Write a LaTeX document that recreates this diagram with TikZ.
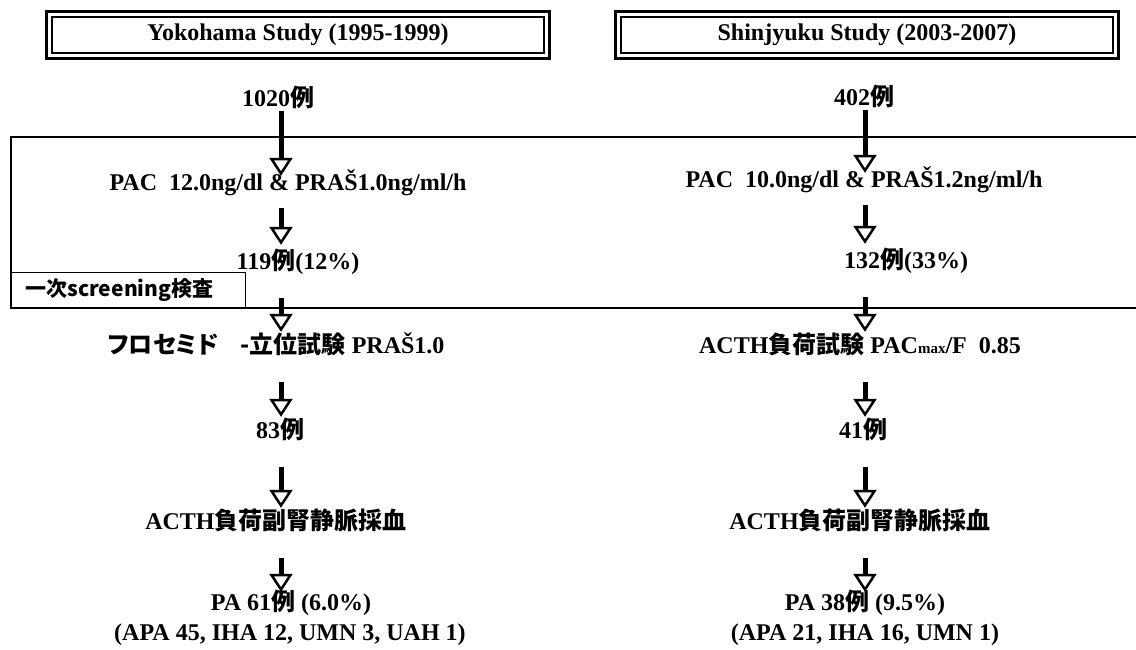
\documentclass[tikz,border=0pt]{standalone}
\usepackage{fontspec}
\setmainfont{Liberation Serif}
\newfontfamily\jafont{Noto Sans CJK JP Bold}
\newfontfamily\kanafont{Noto Sans CJK JP Bold}[RawFeature=+palt]
\usetikzlibrary{arrows.meta}
\newcommand{\ja}[1]{{\jafont #1}}
\newcommand{\kana}[1]{{\kanafont #1}}
\tikzset{
  txt/.style={anchor=base, inner sep=0pt, text height=17pt, text depth=5pt,
    font=\bfseries\fontsize{24}{26}\selectfont},
  flow/.style={line width=5pt, -{Triangle[length=18pt,width=23pt,fill=white,line width=2.5pt]},
    shorten <=24pt, shorten >=4pt},
  header/.style={draw, line width=1.2pt, minimum width=492pt, minimum height=36pt,
    inner sep=0pt, font=\bfseries\fontsize{24}{26}\selectfont}
}
\begin{document}
\begin{tikzpicture}[x=1pt,y=-1pt]
    \useasboundingbox (0,0) rectangle (1136,649);

    % study headers
    \node[header] (hdrL) at (298,35) {Yokohama Study (1995-1999)};
    \node[header] (hdrR) at (867,35) {Shinjyuku Study (2003-2007)};
    \draw[line width=3.5pt] ([shift={(-5pt,5pt)}]hdrL.north west) rectangle ([shift={(5pt,-5pt)}]hdrL.south east);
    \draw[line width=3.5pt] ([shift={(-5pt,5pt)}]hdrR.north west) rectangle ([shift={(5pt,-5pt)}]hdrR.south east);

    % screening frame
    \draw[line width=2.5pt] (11,137) rectangle (1145,308);
    \node[draw, line width=1pt, anchor=south west, minimum height=35pt, inner ysep=0pt,
      inner xsep=14pt, text width=206pt, align=left,
      font=\bfseries\fontsize{21}{23}\selectfont] (scrlabel) at (11,308) {\ja{一次screening検査}};

    \coordinate (lcol) at (281,0);
    \coordinate (rcol) at (865,0);

    % Yokohama
    \node[txt] (l0) at (278,106) {1020\ja{例}};
    \node[txt] (l1) at (288,190) {PAC\ \ 12.0ng/dl \& PRAŠ1.0ng/ml/h};
    \node[txt] (l2) at (298,269) {119\ja{例}(12\%)};
    \node[txt] (l3) at (276,353) {\kana{フロセミド}\hspace{22pt}\ja{-立位試験} PRAŠ1.0};
    \node[txt] (l4) at (280,438) {83\ja{例}};
    \node[txt] (l5) at (276,529) {ACTH\ja{負荷副腎静脈採血}};
    \node[txt] (l6) at (291,610) {PA 61\ja{例} (6.0\%)};
    \node[txt] (l7) at (290,640) {(APA 45, IHA 12, UMN 3, UAH 1)};

    % Shinjyuku
    \node[txt] (r0) at (864,105) {402\ja{例}};
    \node[txt] (r1) at (864,187) {PAC\ \ 10.0ng/dl \& PRAŠ1.2ng/ml/h};
    \node[txt] (r2) at (906,268) {132\ja{例}(33\%)};
    \node[txt] (r3) at (860,353) {ACTH\ja{負荷試験} PAC{\fontsize{15}{15}\selectfont max}/F\ \ 0.85};
    \node[txt] (r4) at (863,438) {41\ja{例}};
    \node[txt] (r5) at (860,529) {ACTH\ja{負荷副腎静脈採血}};
    \node[txt] (r6) at (865,610) {PA 38\ja{例} (9.5\%)};
    \node[txt] (r7) at (865,640) {(APA 21, IHA 16, UMN 1)};

    \draw[flow, shorten <=0pt, shorten >=-3pt] (l0.south -| lcol) -- (l1.north -| lcol);
    \draw[flow, shorten <=13pt, shorten >=7pt] (l1.south -| lcol) -- (l2.north -| lcol);
    \draw[flow] (l2.south -| lcol) -- (l3.north -| lcol);
    \draw[flow] (l3.south -| lcol) -- (l4.north -| lcol);
    \draw[flow] (l4.south -| lcol) -- (l5.north -| lcol);
    \draw[flow, shorten >=1pt] (l5.south -| lcol) -- (l6.north -| lcol);

    \draw[flow, shorten <=0pt, shorten >=-3pt] (r0.south -| rcol) -- (r1.north -| rcol);
    \draw[flow, shorten <=13pt, shorten >=7pt] (r1.south -| rcol) -- (r2.north -| rcol);
    \draw[flow] (r2.south -| rcol) -- (r3.north -| rcol);
    \draw[flow] (r3.south -| rcol) -- (r4.north -| rcol);
    \draw[flow] (r4.south -| rcol) -- (r5.north -| rcol);
    \draw[flow, shorten >=1pt] (r5.south -| rcol) -- (r6.north -| rcol);
\end{tikzpicture}
\end{document}
